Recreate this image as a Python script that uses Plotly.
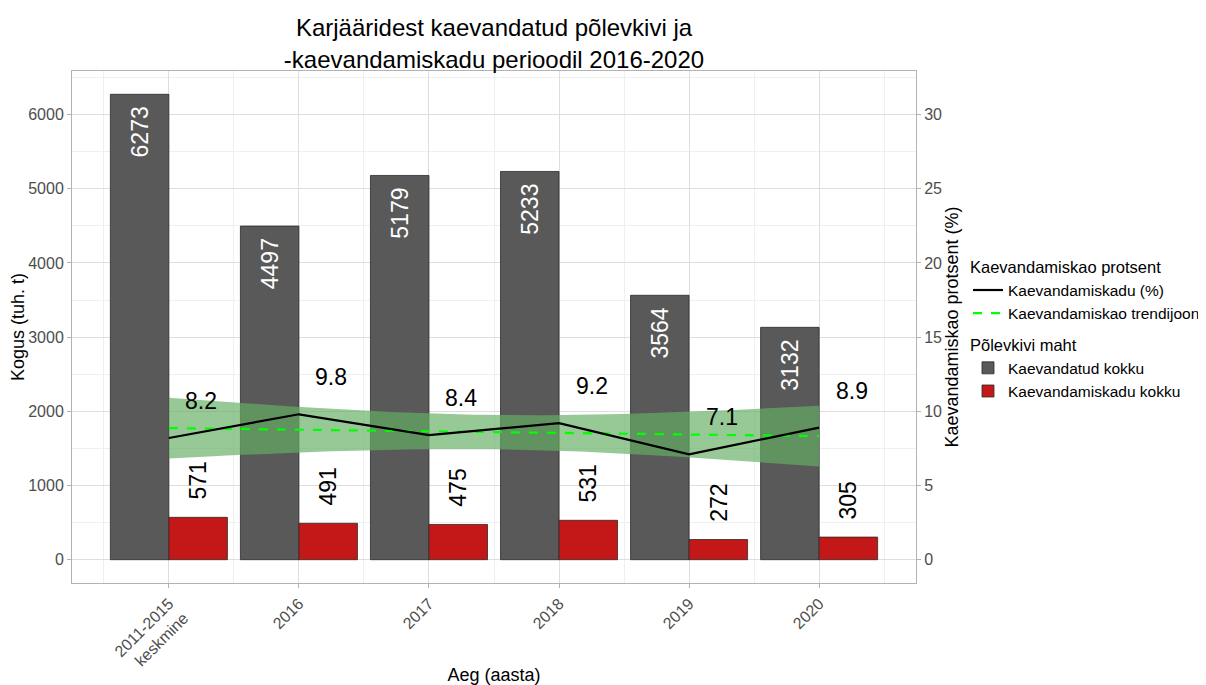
import numpy as np
import plotly.graph_objects as go

# ---- data ----
categories = ["2011-2015<br>keskmine", "2016", "2017", "2018", "2019", "2020"]
mined_total = [6273, 4497, 5179, 5233, 3564, 3132]      # Kaevandatud kokku (tuh. t)
loss_total = [571, 491, 475, 531, 272, 305]             # Kaevandamiskadu kokku (tuh. t)
loss_pct = [8.2, 9.8, 8.4, 9.2, 7.1, 8.9]               # Kaevandamiskadu (%)

title_text = "Karjääridest kaevandatud põlevkivi ja<br>-kaevandamiskadu perioodil 2016-2020"

FONT = "Liberation Sans, Arial, sans-serif"
DARK = "#595959"
RED = "#C41818"

xi = np.arange(len(categories))

# linear trend + 95% confidence band (as geom_smooth(method="lm"))
xs = np.linspace(xi.min(), xi.max(), 80)
y_arr = np.array(loss_pct)
b1, b0 = np.polyfit(xi, y_arr, 1)
fit = b0 + b1 * xs
resid = y_arr - (b0 + b1 * xi)
n = len(xi)
s = np.sqrt(np.sum(resid ** 2) / (n - 2))
sxx = np.sum((xi - xi.mean()) ** 2)
se = s * np.sqrt(1.0 / n + (xs - xi.mean()) ** 2 / sxx)
tq = 2.7764451  # t quantile 0.975, df = 4
lo = fit - tq * se
hi = fit + tq * se

fig = go.Figure()

fig.add_trace(go.Bar(
    x=xi, y=mined_total, name="Kaevandatud kokku",
    marker=dict(color=DARK, line=dict(color="#2b2b2b", width=0.8)),
    legend="legend2", hoverinfo="y",
))
fig.add_trace(go.Bar(
    x=xi, y=loss_total, name="Kaevandamiskadu kokku",
    marker=dict(color=RED, line=dict(color="#2b2b2b", width=0.8)),
    legend="legend2", hoverinfo="y",
))

# confidence band
fig.add_trace(go.Scatter(
    x=np.concatenate([xs, xs[::-1]]), y=np.concatenate([hi, lo[::-1]]),
    fill="toself", fillcolor="rgba(100,176,100,0.68)", line=dict(width=0),
    yaxis="y2", showlegend=False, hoverinfo="skip", mode="lines",
))
fig.add_trace(go.Scatter(
    x=xs, y=fit, mode="lines", name="Kaevandamiskao trendijoon",
    line=dict(color="#00FF00", width=2.2, dash="dash"), yaxis="y2", legend="legend",
    legendrank=2,
))
fig.add_trace(go.Scatter(
    x=xi, y=loss_pct, mode="lines", name="Kaevandamiskadu (%)",
    line=dict(color="black", width=2.2), yaxis="y2", legend="legend",
    legendrank=1,
))

annotations = []
for i, v in enumerate(mined_total):
    annotations.append(dict(x=i - 0.225, y=v, xref="x", yref="y", text=str(v),
                            textangle=-90, showarrow=False, yanchor="top", xanchor="center",
                            yshift=-10, font=dict(family=FONT, size=23, color="white")))
for i, v in enumerate(loss_total):
    annotations.append(dict(x=i + 0.225, y=v, xref="x", yref="y", text=str(v),
                            textangle=-90, showarrow=False, yanchor="bottom", xanchor="center",
                            yshift=16, font=dict(family=FONT, size=23, color="black")))
for i, v in enumerate(loss_pct):
    annotations.append(dict(x=i + 0.25, y=v, xref="x", yref="y2", text=f"{v:.1f}",
                            showarrow=False, yanchor="middle", xanchor="center",
                            yshift=37, font=dict(family=FONT, size=23, color="black")))

yr = [-314, 6587]
fig.update_layout(
    width=1198, height=677,
    margin=dict(l=64, r=290, t=63, b=102, autoexpand=False),
    paper_bgcolor="white", plot_bgcolor="white",
    font=dict(family=FONT, color="black"),
    title=dict(text=title_text, x=0.5, xref="paper", xanchor="center",
               y=0.958, yref="container", yanchor="top",
               font=dict(family=FONT, size=24, color="black")),
    barmode="group", bargap=0.1, bargroupgap=0,
    xaxis=dict(
        range=[-0.745, 5.745], tickmode="array", tickvals=list(xi), ticktext=categories,
        tickangle=-45, tickfont=dict(family=FONT, size=16, color="#4D4D4D"),
        ticks="outside", ticklen=4, tickcolor="#B3B3B3", automargin=False,
        showgrid=True, gridcolor="#DEDEDE", gridwidth=1,
        minor=dict(tickvals=[k + 0.5 for k in range(-1, 6)], showgrid=True,
                   gridcolor="#EFEFEF", gridwidth=1, ticks=""),
        showline=True, linecolor="#B3B3B3", linewidth=1, mirror=True, zeroline=False,
        title=dict(text="Aeg (aasta)", font=dict(family=FONT, size=18, color="black"), standoff=8),
    ),
    yaxis=dict(
        range=yr, tickmode="array", tickvals=[0, 1000, 2000, 3000, 4000, 5000, 6000],
        tickfont=dict(family=FONT, size=16, color="#4D4D4D"),
        ticks="outside", ticklen=4, tickcolor="#B3B3B3", automargin=False,
        showgrid=True, gridcolor="#DEDEDE", gridwidth=1,
        minor=dict(tickvals=[500 + 1000 * k for k in range(7)], showgrid=True,
                   gridcolor="#EFEFEF", gridwidth=1, ticks=""),
        showline=True, linecolor="#B3B3B3", linewidth=1, mirror=True, zeroline=False,
        title=dict(text="Kogus (tuh. t)", font=dict(family=FONT, size=18, color="black"), standoff=1),
    ),
    yaxis2=dict(
        range=[yr[0] / 200, yr[1] / 200], overlaying="y", side="right",
        tickmode="array", tickvals=[0, 5, 10, 15, 20, 25, 30],
        tickfont=dict(family=FONT, size=16, color="#4D4D4D"),
        ticks="outside", ticklen=4, tickcolor="#B3B3B3", automargin=False,
        showgrid=False, zeroline=False, showline=False,
        title=dict(text="Kaevandamiskao protsent (%)", font=dict(family=FONT, size=18, color="black"), standoff=3),
    ),
    legend=dict(
        title=dict(text="Kaevandamiskao protsent", font=dict(family=FONT, size=16.5, color="black")),
        x=1.0616, xanchor="left", y=0.6465, yanchor="top", yref="paper",
        font=dict(family=FONT, size=15.5, color="black"), tracegroupgap=0,
        bgcolor="rgba(0,0,0,0)", itemwidth=30,
    ),
    legend2=dict(
        title=dict(text="Põlevkivi maht", font=dict(family=FONT, size=16.5, color="black")),
        x=1.0616, xanchor="left", y=0.4945, yanchor="top", yref="paper",
        font=dict(family=FONT, size=15.5, color="black"), tracegroupgap=0,
        bgcolor="rgba(0,0,0,0)", traceorder="normal",
    ),
    annotations=annotations,
    hovermode="closest",
)

fig.write_html("out.html")
